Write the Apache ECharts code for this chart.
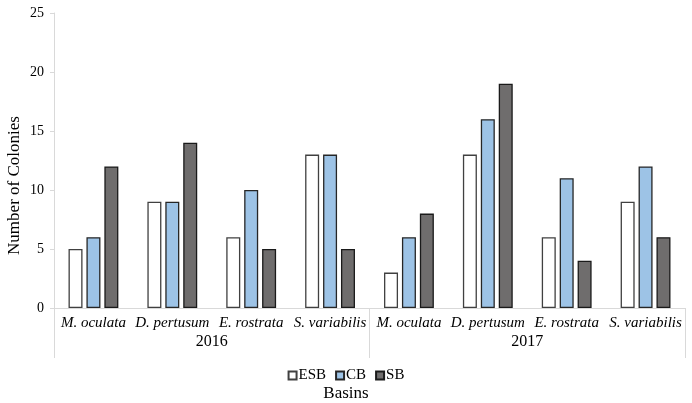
<!DOCTYPE html>
<html>
<head>
<meta charset="utf-8">
<script src="https://cdn.jsdelivr.net/npm/echarts@6/dist/echarts.min.js"></script>
<style>
  html, body { margin: 0; padding: 0; background: #fff; }
  #main { width: 692px; height: 403px; }
</style>
</head>
<body>
<div id="main"></div>
<script>
var species = ['M. oculata', 'D. pertusum', 'E. rostrata', 'S. variabilis',
               'M. oculata', 'D. pertusum', 'E. rostrata', 'S. variabilis'];
var years = ['2016', '2017'];
var esb = [5, 9, 6, 13, 3, 13, 6, 9];
var cb = [6, 9, 10, 13, 6, 16, 11, 12];
var sb = [12, 14, 5, 5, 8, 19, 4, 6];
var yTicks = { min: 0, max: 25, interval: 5 };

var serif = 'Liberation Serif, Times New Roman, serif';
var axisGray = '#d9d9d9';

var myChart = echarts.init(document.getElementById('main'));

function barSeries(name, data, fill, border) {
    return {
        name: name,
        type: 'bar',
        data: data,
        barWidth: 14,
        barGap: '28%',
        itemStyle: {
            color: fill,
            borderColor: border,
            borderWidth: 1.3
        }
    };
}

var option = {
    animation: false,
    backgroundColor: '#fff',
    textStyle: { fontFamily: serif },
    title: {
        text: 'Basins',
        left: 'center',
        bottom: 0,
        padding: [0, 0, 1, 0],
        textStyle: { fontFamily: serif, fontSize: 17, fontWeight: 'normal', color: '#000' }
    },
    legend: {
        data: ['ESB', 'CB', 'SB'],
        left: 'center',
        bottom: 15,
        icon: 'rect',
        itemWidth: 8,
        itemHeight: 8,
        itemGap: 9,
        textStyle: { fontFamily: serif, fontSize: 15, color: '#000', padding: [0, 0, 0, -3] }
    },
    grid: {
        left: 54,
        right: 7,
        top: 13,
        bottom: 95,
        outerBoundsMode: 'none'
    },
    xAxis: [
        {
            type: 'category',
            data: species,
            position: 'bottom',
            axisLine: { show: true, lineStyle: { color: axisGray, width: 1 } },
            axisTick: { show: false },
            axisLabel: {
                interval: 0,
                margin: 8,
                fontFamily: serif,
                fontStyle: 'italic',
                fontSize: 15,
                color: '#000'
            }
        },
        {
            type: 'category',
            data: years,
            position: 'bottom',
            axisLine: { show: false },
            axisTick: { show: true, length: 50, lineStyle: { color: axisGray } },
            axisLabel: {
                margin: 26,
                fontFamily: serif,
                fontSize: 16,
                color: '#000'
            }
        }
    ],
    yAxis: {
        type: 'value',
        min: yTicks.min,
        max: yTicks.max,
        interval: yTicks.interval,
        name: 'Number of Colonies',
        nameLocation: 'middle',
        nameGap: 31,
        nameMoveOverlap: false,
        nameTextStyle: { fontFamily: serif, fontSize: 17, color: '#000', padding: [0, 50, 0, 0] },
        splitLine: { show: false },
        axisLine: { show: true, lineStyle: { color: axisGray } },
        axisTick: { show: true, length: 4, lineStyle: { color: axisGray } },
        axisLabel: { fontFamily: serif, fontSize: 14, color: '#000', margin: 10 }
    },
    series: [
        barSeries('ESB', esb, '#ffffff', '#404040'),
        barSeries('CB', cb, '#9dc3e6', '#262626'),
        barSeries('SB', sb, '#6f6d6d', '#1a1a1a')
    ]
};

myChart.setOption(option);
</script>
</body>
</html>
